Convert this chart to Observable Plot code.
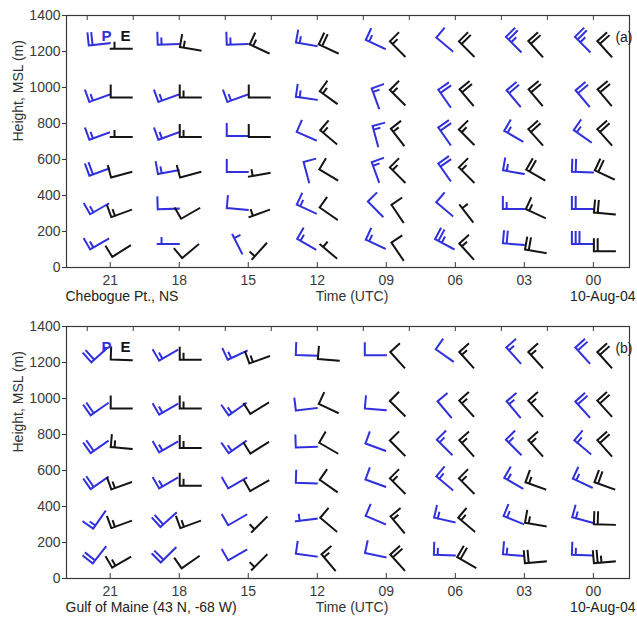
<!DOCTYPE html>
<html><head><meta charset="utf-8">
<script src="https://cdn.jsdelivr.net/npm/d3@7"></script>
<script src="https://cdn.jsdelivr.net/npm/@observablehq/plot@0.6"></script>
<style>
body{margin:0;background:#fff;font-family:"Liberation Sans",Arial,sans-serif}
#chart svg{display:block}
</style>
</head><body><div id="chart"></div>
<script>
// ---- axes / categories ----
const times = [21, 18, 15, 12, 9, 6, 3, 0];          // hours UTC (labelled ticks)
const topTicks = [22, 20, 18, 16, 14, 12, 10, 8, 6, 4, 2, 0];
const yTicks = [0, 200, 400, 600, 800, 1000, 1200, 1400];
const heightsP = [1240, 940, 730, 530, 325, 130];    // profiler (P) levels, m
const heightsE = [1215, 945, 725, 515, 300, 90];     // model (E) levels, m

// ---- panel (a) Chebogue Pt., NS : direction (deg, from) and speed (barb units) ----
const aPdir = [
  [264, 268, 268, 280, 295, 310, 315, 315],
  [250, 250, 250, 278, 340, 325, 320, 320],
  [250, 250, 270, 294, 345, 325, 300, 305],
  [250, 260, 270, 345, 340, 325, 280, 272],
  [240, 268, 275, 295, 315, 310, 270, 270],
  [240, 270, 333, 300, 295, 298, 275, 270]];
const aPspd = [
  [20, 15, 15, 15, 15, 10, 25, 25],
  [15, 15, 15, 15, 15, 20, 20, 20],
  [15, 15, 10, 10, 15, 20, 15, 15],
  [20, 15, 10, 10, 15, 20, 15, 20],
  [15, 10, 10, 15, 10, 10, 15, 20],
  [15, 5, 5, 15, 15, 25, 20, 30]];
const aEdir = [
  [270, 280, 295, 295, 315, 315, 318, 318],
  [270, 270, 270, 306, 315, 320, 320, 320],
  [270, 270, 270, 310, 322, 315, 318, 318],
  [255, 255, 260, 301, 315, 315, 300, 295],
  [250, 240, 250, 305, 326, 322, 295, 275],
  [238, 230, 222, 310, 326, 318, 280, 270]];
const aEspd = [
  [5, 15, 15, 20, 15, 20, 20, 20],
  [10, 15, 10, 15, 15, 20, 20, 20],
  [5, 15, 10, 15, 15, 15, 20, 20],
  [10, 10, 5, 10, 15, 15, 20, 20],
  [15, 10, 5, 10, 10, 5, 15, 20],
  [10, 10, 5, 5, 10, 15, 20, 20]];

// ---- panel (b) Gulf of Maine ----
const bPdir = [
  [228, 240, 245, 272, 270, 305, 318, 318],
  [235, 240, 235, 263, 275, 320, 320, 318],
  [235, 240, 235, 268, 290, 315, 315, 310],
  [235, 240, 240, 272, 290, 310, 300, 295],
  [215, 228, 240, 263, 293, 283, 292, 285],
  [218, 225, 240, 278, 282, 272, 275, 272]];
const bPspd = [
  [20, 15, 15, 10, 10, 10, 15, 20],
  [20, 15, 15, 10, 10, 10, 15, 20],
  [20, 15, 15, 10, 10, 15, 15, 15],
  [20, 15, 10, 10, 10, 15, 15, 15],
  [15, 20, 10, 5, 10, 15, 15, 15],
  [20, 20, 10, 10, 10, 15, 15, 15]];
const bEdir = [
  [272, 270, 250, 275, 318, 318, 318, 318],
  [270, 270, 238, 295, 315, 318, 318, 318],
  [275, 270, 238, 300, 315, 318, 318, 318],
  [250, 270, 240, 305, 315, 315, 290, 290],
  [250, 250, 225, 310, 320, 310, 280, 272],
  [240, 235, 225, 320, 318, 300, 265, 265]];
const bEspd = [
  [10, 15, 15, 10, 10, 15, 15, 20],
  [10, 15, 10, 10, 10, 15, 15, 20],
  [15, 15, 10, 10, 10, 15, 15, 20],
  [15, 15, 10, 10, 15, 15, 15, 20],
  [15, 15, 5, 10, 15, 15, 15, 20],
  [15, 10, 5, 15, 20, 20, 20, 25]];

const BLUE = "#3030dc", BLACK = "#141414", AXIS = "#3a3a3a";

function table(dirs, spds, heights) {
  const out = [];
  dirs.forEach((row, i) => row.forEach((d, j) =>
    out.push({t: times[j], h: heights[i], dir: d, spd: spds[i][j]})));
  return out;
}

// wind-barb shape: staff points toward the wind origin, feathers at the far end
function barbShape(speed) {
  const F = 12, S = 3.8;
  return {
    draw(ctx, l) {
      ctx.moveTo(0, 0); ctx.lineTo(0, -l);
      const full = Math.floor(speed / 10), half = speed % 10 >= 5;
      let p = -l;
      if (full === 0 && half) p += S;
      for (let i = 0; i < full; i++) { ctx.moveTo(0, p); ctx.lineTo(F, p); p += S; }
      if (half) { ctx.moveTo(0, p); ctx.lineTo(F / 2, p); }
    }
  };
}

function barbMarks(data, color, dx) {
  const speeds = Array.from(new Set(data.map(d => d.spd)));
  return speeds.map(s => Plot.vector(data.filter(d => d.spd === s), {
    x: "t", y: "h", rotate: "dir", length: 21, anchor: "middle",
    shape: barbShape(s), stroke: color, strokeWidth: 2, strokeLinecap: "square", dx
  }));
}

function panel(P, E, site, tag) {
  const plotH = 311 - 15 - 44;
  return Plot.plot({
    width: 637, height: 311,
    marginLeft: 66, marginRight: 8, marginTop: 15, marginBottom: 44,
    style: {fontFamily: "'Liberation Sans', Arial, sans-serif", fontSize: "14px", color: AXIS, background: "white", overflow: "visible"},
    x: {domain: [22.9, -1.57], ticks: times, tickFormat: d3.format("02d"), tickSize: 0, tickPadding: 8, label: null},
    y: {domain: [0, 1400], ticks: yTicks, tickFormat: d3.format("d"), tickSize: 4, tickPadding: 2, label: null},
    marks: [
      Plot.frame({stroke: AXIS, strokeWidth: 1.2}),
      Plot.ruleX(topTicks, {insetBottom: plotH - 5, stroke: AXIS}),
      Plot.ruleX(times, {insetTop: plotH - 5, stroke: AXIS}),
      ...barbMarks(P, BLUE, -11),
      ...barbMarks(E, BLACK, 11),
      Plot.text(["P"], {frameAnchor: "top-left", dx: 35, dy: 15, fill: BLUE, fontWeight: "bold", fontSize: 15}),
      Plot.text(["E"], {frameAnchor: "top-left", dx: 54, dy: 15, fill: BLACK, fontWeight: "bold", fontSize: 15}),
      Plot.text([tag], {frameAnchor: "top-right", textAnchor: "end", dx: 3, dy: 17, fill: "#222", fontSize: 14}),
      Plot.text(["Height, MSL (m)"], {frameAnchor: "left", rotate: -90, dx: -48, fill: "#333", fontSize: 14}),
      Plot.text([site], {frameAnchor: "bottom-left", textAnchor: "start", dx: -1, dy: 33, fill: "#222", fontSize: 14}),
      Plot.text(["Time (UTC)"], {frameAnchor: "bottom", dx: 4, dy: 33, fill: "#333", fontSize: 14}),
      Plot.text(["10-Aug-04"], {frameAnchor: "bottom-right", textAnchor: "end", dx: 6, dy: 33, fill: "#222", fontSize: 14})
    ]
  });
}

const root = document.getElementById("chart");
root.append(panel(table(aPdir, aPspd, heightsP), table(aEdir, aEspd, heightsE), "Chebogue Pt., NS", "(a)"));
root.append(panel(table(bPdir, bPspd, heightsP), table(bEdir, bEspd, heightsE), "Gulf of Maine (43 N, -68 W)", "(b)"));
</script>
</body></html>
